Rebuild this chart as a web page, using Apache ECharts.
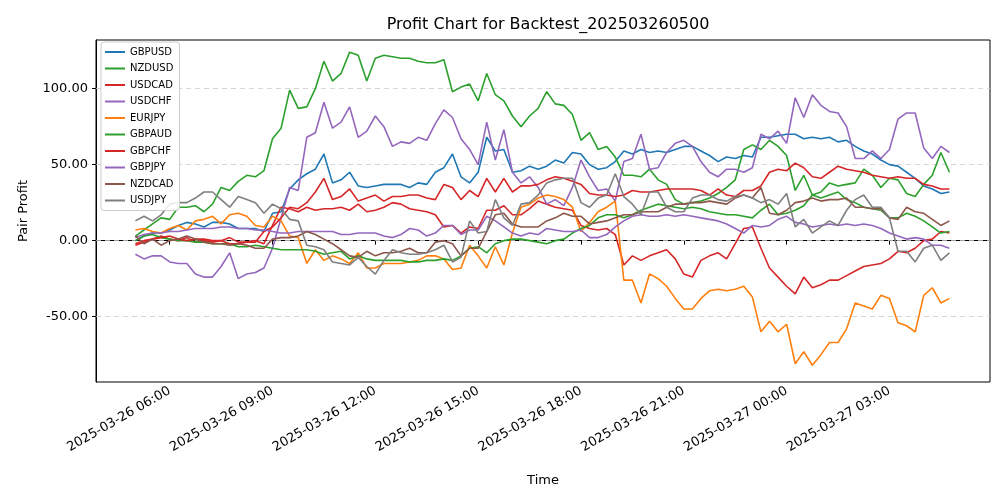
<!DOCTYPE html>
<html>
<head>
<meta charset="utf-8">
<script src="https://cdn.jsdelivr.net/npm/echarts@6/dist/echarts.min.js"></script>
<style>html,body{margin:0;padding:0;background:#fff}#chart{width:1000px;height:500px}</style>
</head>
<body>
<div id="chart"></div>
<script>
// 15-minute samples from 2025-03-26 05:00 to 2025-03-27 04:45
var startTime = new Date(2025, 2, 26, 5, 0).getTime();
var stepMs = 15 * 60 * 1000;

var pairNames = ["GBPUSD", "NZDUSD", "USDCAD", "USDCHF", "EURJPY", "GBPAUD", "GBPCHF", "GBPJPY", "NZDCAD", "USDJPY"];
var pairColors = ["#1f77b4", "#2ca02c", "#d62728", "#9467bd", "#ff7f0e", "#2ca02c", "#d62728", "#9467bd", "#8c564b", "#7f7f7f"];

var gbpusd = [0,3,5,5,7,10,12,11,9,12,12,11,8,8,8,6,18,19,34,40,44,47,57,38,40,45,36,35,36,37,37,37,35,38,37,45,48,57,42,38,45,68,59,60,45,46,49,47,49,53,51,58,57,50,47,48,52,59,57,60,58,59,58,60,62,62,59,56,52,55,54,56,55,68,68,69,70,70,67,68,67,68,65,66,62,59,57,53,50,49,45,41,36,34,31,32];
var nzdusd = [3,7,11,15,14,22,22,23,19,24,35,33,39,43,42,46,67,74,99,87,88,100,118,105,110,124,122,105,120,122,121,120,120,118,117,117,119,98,101,103,92,110,96,92,82,75,82,87,98,90,89,83,66,71,60,62,55,43,43,42,47,40,37,27,24,25,26,28,31,35,40,60,63,60,66,62,56,33,43,30,32,38,36,37,38,47,43,35,41,40,31,29,37,43,58,45];
var usdcad = [-3,-1,1,3,1,0,2,-1,0,-1,0,2,-1,-1,0,-2,10,22,21,19,22,20,21,21,22,20,24,19,20,22,25,24,21,20,19,17,9,10,5,9,8,20,20,23,17,17,21,26,24,22,21,20,10,8,7,8,4,-16,-10,-13,-10,-8,-6,-12,-22,-24,-13,-10,-8,-12,-2,8,9,-5,-18,-24,-30,-35,-24,-31,-29,-26,-26,-23,-20,-17,-16,-15,-12,-7,-8,-5,0,1,6,5];
var usdchf = [-9,-12,-10,-10,-14,-15,-15,-22,-24,-24,-17,-8,-25,-22,-21,-18,-5,15,35,33,68,71,91,74,78,88,68,72,82,75,62,65,64,68,66,77,86,81,67,60,50,78,53,73,45,38,42,35,24,27,23,35,53,42,33,34,26,52,54,70,47,48,58,64,66,62,52,45,42,47,47,45,48,70,67,72,64,94,81,96,89,85,84,75,54,54,59,54,60,80,84,84,61,54,62,58];
var eurjpy = [7,8,6,5,8,10,7,13,14,16,11,17,18,16,10,9,16,13,3,2,-15,-6,-13,-10,-12,-15,-8,-18,-18,-15,-15,-15,-14,-13,-10,-10,-12,-19,-18,-3,-10,-18,-4,-16,5,22,24,28,30,29,27,22,6,12,19,22,26,-26,-26,-41,-22,-25,-30,-38,-45,-45,-38,-33,-32,-33,-32,-30,-37,-60,-53,-60,-55,-81,-73,-82,-75,-67,-67,-58,-41,-43,-45,-36,-38,-54,-56,-60,-36,-31,-41,-38];
var gbpaud = [0,3,4,2,1,0,0,-1,-1,-2,-2,-2,-4,-4,-3,-4,-5,-6,-6,-6,-6,-7,-9,-8,-7,-12,-10,-12,-13,-13,-13,-13,-14,-14,-13,-13,-12,-13,-10,-5,-4,-8,-2,0,1,1,0,-1,-2,0,1,5,8,10,15,17,17,15,17,20,22,24,23,22,21,22,21,19,18,17,17,16,15,20,24,17,18,20,23,30,28,30,32,27,25,22,21,20,15,15,18,16,13,9,5,6];
var gbpchf = [-2,0,1,2,3,1,0,1,1,0,0,-2,-2,-1,-1,6,9,15,22,21,25,32,41,27,29,34,26,28,30,26,29,29,30,30,28,27,37,35,27,33,29,41,32,41,32,36,36,37,40,42,41,39,37,31,30,30,29,30,33,32,32,33,34,34,34,34,33,30,34,30,29,33,33,36,45,47,46,51,48,42,41,45,49,47,46,45,43,42,41,42,41,41,37,36,34,34];
var gbpjpy = [2,4,5,5,6,6,7,8,8,8,9,9,8,8,7,7,6,5,5,6,6,6,6,6,4,4,5,5,5,3,2,4,8,7,3,5,10,10,4,7,7,16,13,9,5,3,5,4,8,7,6,6,7,2,2,4,9,13,16,17,16,16,17,16,17,16,15,14,13,11,8,5,10,9,10,14,16,12,11,9,10,11,10,11,10,11,10,8,5,3,1,2,1,-3,-3,-5];
var nzdcad = [3,-2,1,-3,0,1,3,1,-1,-2,-2,-3,-2,-3,-5,-5,1,2,2,3,6,4,1,-2,-6,-10,-11,-7,-10,-8,-8,-7,-5,-8,-8,-1,0,-2,-10,-5,-5,6,17,18,11,9,9,9,13,15,18,16,16,11,12,13,15,17,17,19,19,19,22,24,24,25,25,26,25,24,28,30,28,35,18,17,20,25,26,28,26,27,27,28,22,22,21,21,15,14,22,19,18,14,10,13];
var usdjpy = [13,16,13,17,24,25,25,28,32,32,27,22,29,27,25,18,24,21,14,13,-3,-4,-6,-14,-15,-16,-11,-17,-22,-13,-6,-8,-9,-9,-8,-6,-3,-14,-11,13,5,6,27,15,10,24,25,30,38,40,41,41,25,22,28,30,44,29,24,17,32,32,22,19,19,28,30,30,27,26,29,30,28,25,27,24,31,9,14,5,9,13,10,20,27,30,22,22,15,-7,-7,-14,-5,-3,-13,-8];

var seriesValues = [gbpusd, nzdusd, usdcad, usdchf, eurjpy, gbpaud, gbpchf, gbpjpy, nzdcad, usdjpy];

var yTicks = [-50, 0, 50, 100];
var xTicks = [];
for (var h = 0; h <= 21; h += 3) xTicks.push(new Date(2025, 2, 26, 6 + h, 0).getTime());

function pad(n) { return (n < 10 ? "0" : "") + n; }
function fmtTime(v) {
    var d = new Date(v);
    return d.getFullYear() + "-" + pad(d.getMonth() + 1) + "-" + pad(d.getDate()) + " " + pad(d.getHours()) + ":" + pad(d.getMinutes());
}

var dom = document.getElementById("chart");
var myChart = echarts.init(dom);

var series = pairNames.map(function (name, k) {
    var s = {
        name: name,
        type: "line",
        symbol: "none",
        lineStyle: { width: 1.6, color: pairColors[k] },
        itemStyle: { color: pairColors[k] },
        z: 3,
        data: seriesValues[k].map(function (v, i) { return [startTime + i * stepMs, v]; })
    };
    if (k === 0) {
        s.markLine = {
            silent: true,
            symbol: "none",
            label: { show: false },
            lineStyle: { color: "#cccccc", type: [5, 4], width: 0.8 },
            data: yTicks.map(function (t) { return { yAxis: t }; }),
            z: 1
        };
    }
    return s;
});

var option = {
    animation: false,
    textStyle: { fontFamily: "DejaVu Sans" },
    title: {
        text: "Profit Chart for Backtest_202503260500",
        left: 543, top: 12, textAlign: "center",
        textStyle: { fontSize: 16, fontWeight: "normal", color: "#000", fontFamily: "DejaVu Sans" }
    },
    legend: {
        orient: "vertical",
        left: 101, top: 42,
        data: pairNames,
        icon: "rect",
        itemWidth: 20, itemHeight: 2,
        itemGap: 6.5,
        padding: [5, 6, 5, 4],
        backgroundColor: "rgba(255,255,255,0.85)",
        borderColor: "#cccccc", borderWidth: 1, borderRadius: 3,
        textStyle: { fontSize: 10, color: "#000", fontFamily: "DejaVu Sans" }
    },
    grid: { left: 96, right: 10, top: 40, bottom: 118, show: true, borderColor: "#000", borderWidth: 1, containLabel: false },
    xAxis: {
        type: "value",
        min: new Date(2025, 2, 26, 3, 51).getTime(),
        max: new Date(2025, 2, 27, 5, 56).getTime(),
        name: "Time", nameLocation: "middle", nameGap: 92,
        nameTextStyle: { fontSize: 13, color: "#000" },
        axisLine: { lineStyle: { color: "#000" } },
        axisTick: { show: true, length: 4, customValues: xTicks, lineStyle: { color: "#000" } },
        axisLabel: { rotate: 30, fontSize: 13, color: "#000", customValues: xTicks, formatter: fmtTime, margin: 8 },
        splitLine: { show: false }
    },
    yAxis: {
        type: "value",
        min: -93, max: 132,
        name: "Pair Profit", nameLocation: "middle", nameGap: 66,
        nameTextStyle: { fontSize: 13, color: "#000" },
        axisLine: { show: true, lineStyle: { color: "#000" } },
        axisTick: { show: true, length: 4, customValues: yTicks, lineStyle: { color: "#000" } },
        axisLabel: { fontSize: 13, color: "#000", customValues: yTicks, formatter: function (v) { return v.toFixed(2); } },
        splitLine: { show: false }
    },
    series: series
};
myChart.setOption(option, true);
</script>
</body>
</html>
